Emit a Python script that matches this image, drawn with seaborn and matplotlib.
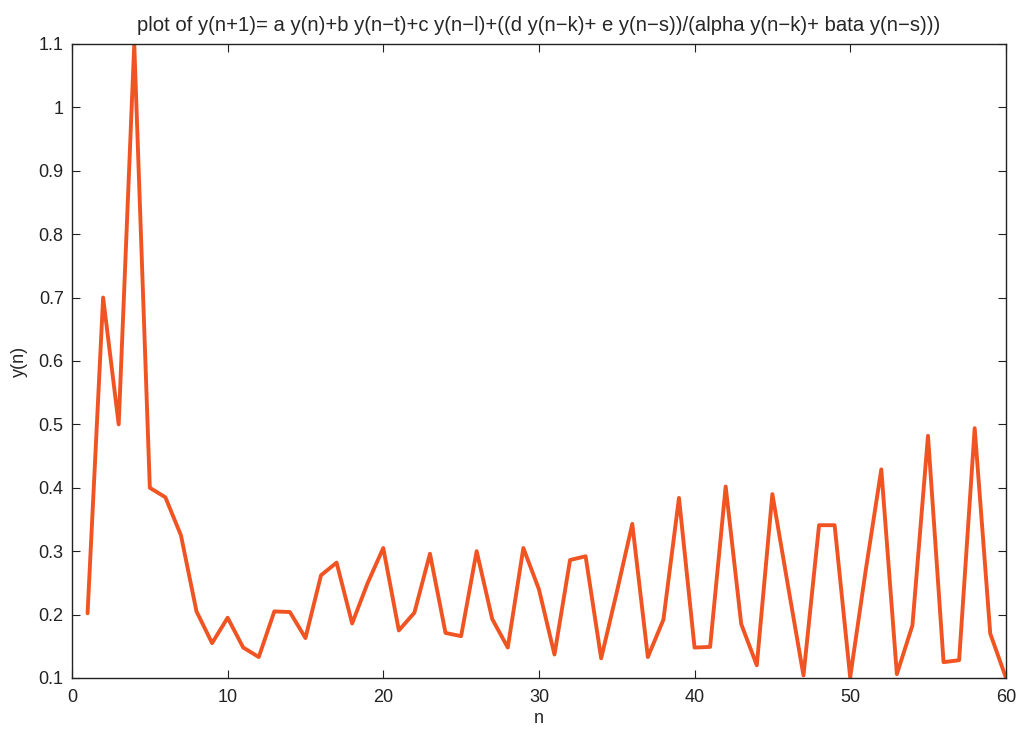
import matplotlib
matplotlib.use("Agg")
import matplotlib.pyplot as plt
import seaborn as sns
import pandas as pd

n_values = list(range(1, 61))
y_values = [0.202, 0.700, 0.500, 1.100, 0.400, 0.385, 0.325, 0.205, 0.155, 0.195,
            0.148, 0.133, 0.205, 0.204, 0.163, 0.262, 0.282, 0.186, 0.250, 0.305,
            0.175, 0.203, 0.296, 0.171, 0.166, 0.300, 0.193, 0.148, 0.305, 0.240,
            0.137, 0.286, 0.292, 0.131, 0.235, 0.343, 0.133, 0.192, 0.384, 0.148,
            0.149, 0.402, 0.185, 0.120, 0.390, 0.246, 0.104, 0.341, 0.341, 0.101,
            0.270, 0.429, 0.106, 0.183, 0.482, 0.125, 0.128, 0.494, 0.170, 0.101]
x_ticks = [0, 10, 20, 30, 40, 50, 60]
y_ticks = [0.1, 0.2, 0.3, 0.4, 0.5, 0.6, 0.7, 0.8, 0.9, 1.0, 1.1]
y_tick_labels = ["0.1", "0.2", "0.3", "0.4", "0.5", "0.6", "0.7", "0.8", "0.9", "1", "1.1"]
title = "plot of y(n+1)= a y(n)+b y(n\u2212t)+c y(n\u2212l)+((d y(n\u2212k)+ e y(n\u2212s))/(alpha y(n\u2212k)+ bata y(n\u2212s)))"

sns.set_style("ticks")
plt.rcParams["font.family"] = ["Liberation Sans", "DejaVu Sans"]

df = pd.DataFrame({"n": n_values, "y": y_values})

fig = plt.figure(figsize=(10.17, 7.32), dpi=100)
ax = fig.add_axes([0.0708, 0.0738, 0.9182, 0.8661])
sns.lineplot(data=df, x="n", y="y", ax=ax, color="#F15423", linewidth=2.8)

ax.set_xlim(0, 60)
ax.set_ylim(0.1, 1.1)
ax.set_xticks(x_ticks)
ax.set_yticks(y_ticks)
ax.set_yticklabels(y_tick_labels)
ax.tick_params(direction="in", top=True, right=True, length=6, width=0.8,
               labelsize=13, colors="#222222")
ax.tick_params(axis="x", pad=8)
ax.tick_params(axis="y", pad=6)
for s in ax.spines.values():
    s.set_visible(True)
    s.set_linewidth(1.0)
    s.set_color("#222222")
ax.set_xlabel("n", fontsize=13, labelpad=3)
ax.set_ylabel("y(n)", fontsize=13, labelpad=8)
ax.set_title(title, fontsize=14.6, pad=9)

fig.savefig("out.png", dpi=100)
